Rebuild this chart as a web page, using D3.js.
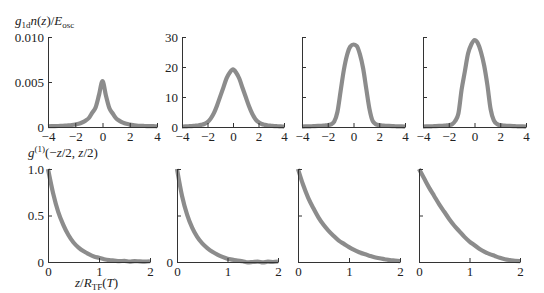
<!DOCTYPE html>
<html lang="en">
  <head>
    <meta charset="UTF-8" />
    <title>Density and correlation</title>
    <script src="https://d3js.org/d3.v7.min.js"></script>
    <style>
      body { margin: 0; background: #fff; }
      svg text { font-family: "Liberation Serif", "Times New Roman", serif; font-size: 13px; fill: #222; }
      .axis path, .axis line { stroke: #333; stroke-width: 1; }
      .curve { fill: none; stroke: #8c8c8c; stroke-width: 4.2; stroke-linejoin: round; }
    </style>
  </head>
  <body>
    <svg width="544" height="293"></svg>
    <script>
      // top row: density profiles, z from -4 to 4
      const zTop = [-4, -3.75, -3.5, -3.25, -3, -2.75, -2.5, -2.25, -2, -1.75, -1.5, -1.25, -1, -0.75, -0.5, -0.25,
        0, 0.25, 0.5, 0.75, 1, 1.25, 1.5, 1.75, 2, 2.25, 2.5, 2.75, 3, 3.25, 3.5, 3.75, 4];
      const dens1 = [0.00008, 0.0001, 0.0001, 0.00011, 0.00013, 0.00015, 0.00018, 0.00022, 0.00028, 0.00036, 0.0005, 0.0007,
        0.001, 0.0016, 0.0022, 0.0036, 0.0051, 0.0035, 0.0021, 0.0015, 0.00095, 0.00068, 0.00048, 0.00035, 0.00027,
        0.00021, 0.00017, 0.00014, 0.00012, 0.0001, 0.0001, 0.00009, 0.00008];
      const dens2 = [0.15, 0.2, 0.25, 0.3, 0.4, 0.5, 0.7, 1.0, 1.6, 2.8, 4.6, 7.2, 10.2, 13.2, 16.3, 18.2, 19.2,
        18.1, 16.1, 13.0, 10.0, 7.0, 4.5, 2.7, 1.6, 1.0, 0.7, 0.5, 0.4, 0.3, 0.25, 0.2, 0.15];
      const dens3 = [0.15, 0.2, 0.2, 0.25, 0.3, 0.35, 0.4, 0.5, 0.6, 0.9, 1.8, 5.0, 12.0, 19.0, 24.0, 26.8, 27.5,
        27.0, 24.2, 19.5, 12.5, 5.8, 1.9, 0.9, 0.6, 0.5, 0.4, 0.35, 0.3, 0.25, 0.2, 0.2, 0.15];
      const dens4 = [0.15, 0.2, 0.2, 0.25, 0.3, 0.35, 0.4, 0.5, 0.6, 0.9, 2.0, 4.5, 12.5, 18.5, 24.5, 27.5, 29.0,
        28.0, 25.0, 20.5, 14.0, 6.0, 2.2, 1.0, 0.6, 0.5, 0.4, 0.35, 0.3, 0.25, 0.2, 0.2, 0.15];

      // bottom row: first order correlation, z/R_TF from 0 to 2
      const zBot = [0, 0.1, 0.2, 0.3, 0.4, 0.5, 0.6, 0.7, 0.8, 0.9, 1.0, 1.1, 1.2, 1.3, 1.4, 1.5, 1.6, 1.7, 1.8, 1.9, 2.0];
      const corr1 = [1.0, 0.74, 0.54, 0.40, 0.29, 0.21, 0.155, 0.115, 0.085, 0.06, 0.045, 0.03, 0.02, 0.015, 0.01,
        0.012, 0.005, 0.01, 0.006, 0.004, 0.008];
      const corr2 = [1.0, 0.71, 0.51, 0.37, 0.27, 0.20, 0.15, 0.11, 0.08, 0.055, 0.035, 0.025, 0.015, 0.008, -0.005,
        0.0, 0.005, -0.005, 0.003, 0.0, 0.005];
      const corr3 = [1.0, 0.83, 0.69, 0.58, 0.48, 0.40, 0.335, 0.28, 0.23, 0.195, 0.16, 0.13, 0.105, 0.085, 0.068,
        0.052, 0.04, 0.03, 0.02, 0.015, 0.01];
      const corr4 = [1.0, 0.90, 0.80, 0.71, 0.62, 0.54, 0.46, 0.39, 0.33, 0.27, 0.22, 0.18, 0.14, 0.11, 0.085,
        0.065, 0.045, 0.03, 0.02, 0.012, 0.01];

      const topXTicks = [-4, -2, 0, 2, 4];
      const botXTicks = [0, 1, 2];
      const yTicks1 = [0, 0.005, 0.01];
      const yTicksN = [0, 10, 20, 30];
      const yTicksG = [0, 0.5, 1];

      const svg = d3.select("svg");
      const fmtX = d3.format("d");

      const topPanels = [
        { x0: 48, x1: 157, y: dens1, ymax: 0.01, ticks: yTicks1, labels: (d) => (d === 0 ? "0" : d3.format(".3f")(d)) },
        { x0: 182, x1: 284, y: dens2, ymax: 30, ticks: yTicksN, labels: (d) => d3.format("d")(d) },
        { x0: 302, x1: 405, y: dens3, ymax: 30, ticks: yTicksN, labels: null },
        { x0: 423, x1: 526, y: dens4, ymax: 30, ticks: yTicksN, labels: null },
      ];
      const botPanels = [
        { x0: 48, x1: 150, y: corr1, labels: (d) => (d === 0 ? "0" : d3.format(".1f")(d)) },
        { x0: 177, x1: 278, y: corr2, labels: (d) => (d === 0 ? "0" : "") },
        { x0: 298, x1: 400, y: corr3, labels: null },
        { x0: 419, x1: 520, y: corr4, labels: null },
      ];

      function panel(p, xs, xDomain, xTicks, yDomain, yTicks, yTop, yBot, xPad) {
        const x = d3.scaleLinear().domain(xDomain).range([p.x0, p.x1]);
        const y = d3.scaleLinear().domain(yDomain).range([yBot, yTop]);
        const g = svg.append("g");

        const line = d3
          .line()
          .x((d, i) => x(xs[i]))
          .y((d) => y(d))
          .curve(d3.curveMonotoneX);
        g.append("path").attr("class", "curve").attr("d", line(p.y));

        g.append("g")
          .attr("class", "axis")
          .attr("transform", `translate(0,${yBot})`)
          .call(d3.axisBottom(x).tickValues(xTicks).tickFormat(fmtX).tickSizeInner(-4).tickSizeOuter(0).tickPadding(xPad))
          .call((a) => a.selectAll("text").attr("fill", "#222"));

        g.append("g")
          .attr("class", "axis")
          .attr("transform", `translate(${p.x0},0)`)
          .call(
            d3.axisLeft(y)
              .tickValues(yTicks)
              .tickFormat(p.labels ? p.labels : () => "")
              .tickSizeInner(-4)
              .tickSizeOuter(0)
              .tickPadding(4)
          )
          .call((a) => a.selectAll("text").attr("fill", "#222"));
      }

      topPanels.forEach((p) => panel(p, zTop, [-4, 4], topXTicks, [0, p.ymax], p.ticks, 37, 127, 5));
      botPanels.forEach((p) => panel(p, zBot, [0, 2], botXTicks, [0, 1], yTicksG, 169, 262, 5));

      // axis titles
      const t1 = svg.append("text").attr("x", 15).attr("y", 25);
      t1.append("tspan").attr("font-style", "italic").text("g");
      t1.append("tspan").attr("font-size", "9px").attr("dy", 3).text("1d");
      t1.append("tspan").attr("dy", -3).attr("font-style", "italic").text("n");
      t1.append("tspan").text("(");
      t1.append("tspan").attr("font-style", "italic").text("z");
      t1.append("tspan").text(")/");
      t1.append("tspan").attr("font-style", "italic").text("E");
      t1.append("tspan").attr("font-size", "9px").attr("dy", 3).text("osc");

      const t2 = svg.append("text").attr("x", 28).attr("y", 157);
      t2.append("tspan").attr("font-style", "italic").text("g");
      t2.append("tspan").attr("font-size", "9px").attr("dy", -5).text("(1)");
      t2.append("tspan").attr("dy", 5).text("(−");
      t2.append("tspan").attr("font-style", "italic").text("z");
      t2.append("tspan").text("/2, ");
      t2.append("tspan").attr("font-style", "italic").text("z");
      t2.append("tspan").text("/2)");

      const t3 = svg.append("text").attr("x", 75).attr("y", 287);
      t3.append("tspan").attr("font-style", "italic").text("z");
      t3.append("tspan").text("/");
      t3.append("tspan").attr("font-style", "italic").text("R");
      t3.append("tspan").attr("font-size", "9px").attr("dy", 3).text("TF");
      t3.append("tspan").attr("dy", -3).text("(");
      t3.append("tspan").attr("font-style", "italic").text("T");
      t3.append("tspan").text(")");
    </script>
  </body>
</html>
